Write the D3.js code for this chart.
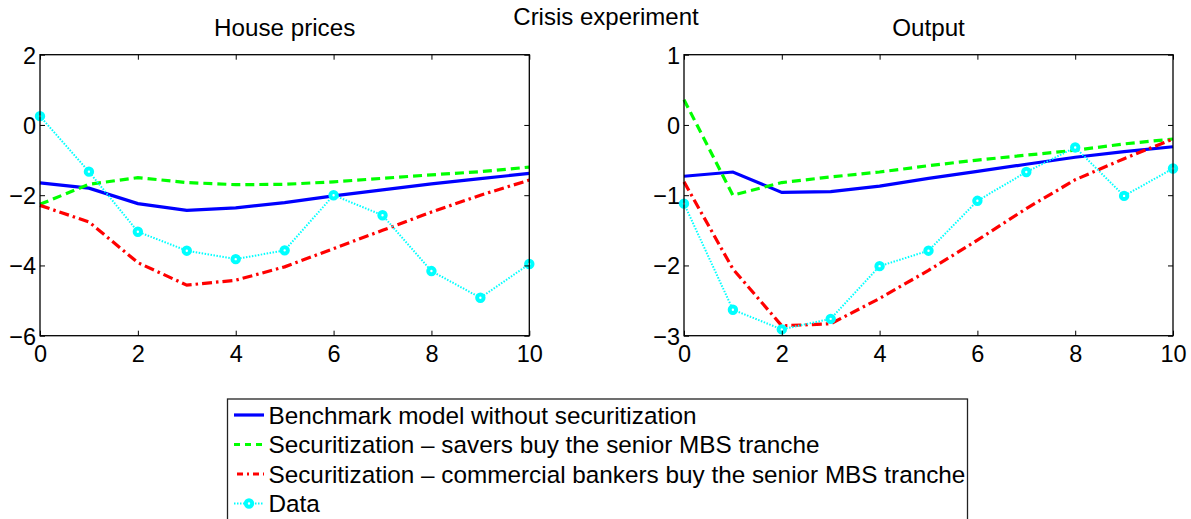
<!DOCTYPE html>
<html>
<head>
<meta charset="utf-8">
<script src="https://cdn.jsdelivr.net/npm/d3@7"></script>
<style>
  html, body { margin: 0; padding: 0; background: #fff; }
  svg { display: block; font-family: "Liberation Sans", Arial, sans-serif; }
</style>
</head>
<body>
<svg id="chart" width="1191" height="519"></svg>
<script>
// ---- Data ----
const periods = [0, 1, 2, 3, 4, 5, 6, 7, 8, 9, 10];

const houseBenchmark = [-1.65, -1.80, -2.24, -2.43, -2.36, -2.21, -2.02, -1.85, -1.68, -1.53, -1.38];
const houseSavers    = [-2.26, -1.69, -1.50, -1.64, -1.70, -1.69, -1.62, -1.52, -1.42, -1.33, -1.20];
const houseBankers   = [-2.29, -2.76, -3.92, -4.56, -4.42, -4.04, -3.52, -3.00, -2.48, -2.00, -1.57];
const houseData      = [0.25, -1.33, -3.04, -3.58, -3.82, -3.57, -2.00, -2.57, -4.16, -4.92, -3.96];

const outputBenchmark = [-0.73, -0.67, -0.96, -0.95, -0.87, -0.76, -0.66, -0.56, -0.46, -0.38, -0.31];
const outputSavers    = [0.36, -1.00, -0.82, -0.74, -0.67, -0.58, -0.50, -0.43, -0.36, -0.27, -0.20];
const outputBankers   = [-0.81, -2.05, -2.86, -2.83, -2.47, -2.07, -1.64, -1.19, -0.78, -0.48, -0.20];
const outputData      = [-1.12, -2.63, -2.91, -2.76, -2.01, -1.79, -1.08, -0.67, -0.32, -1.01, -0.62];

const xTicks = [0, 2, 4, 6, 8, 10];
const houseYTicks = [-6, -4, -2, 0, 2];
const outputYTicks = [-3, -2, -1, 0, 1];

const panelTitles = ["House prices", "Output"];
const figureTitle = "Crisis experiment";
const legendLabels = [
  "Benchmark model without securitization",
  "Securitization \u2013 savers buy the senior MBS tranche",
  "Securitization \u2013 commercial bankers buy the senior MBS tranche",
  "Data"
];

// ---- Styles ----
const seriesStyles = [
  { color: "#0000ff", width: 3.2, dash: null },
  { color: "#00ff00", width: 3.2, dash: "9,5" },
  { color: "#ff0000", width: 3.2, dash: "10,4,2.5,4" },
  { color: "#00ffff", width: 2, dash: "1.5,1.5", marker: true }
];

const svg = d3.select("#chart");
const fmt = d => (d < 0 ? "\u2212" + Math.abs(d) : String(d));

const panels = [
  { title: panelTitles[0], left: 40, right: 529.3, yDomain: [-6, 2], yTicks: houseYTicks,
    series: [houseBenchmark, houseSavers, houseBankers, houseData] },
  { title: panelTitles[1], left: 684, right: 1173, yDomain: [-3, 1], yTicks: outputYTicks,
    series: [outputBenchmark, outputSavers, outputBankers, outputData] }
];
const plotTop = 54.7, plotBottom = 335.7;

panels.forEach(p => {
  const x = d3.scaleLinear().domain([0, 10]).range([p.left, p.right]);
  const y = d3.scaleLinear().domain(p.yDomain).range([plotBottom, plotTop]);
  const g = svg.append("g");

  p.series.forEach((vals, i) => {
    const st = seriesStyles[i];
    const line = d3.line().x((d, j) => x(periods[j])).y(d => y(d));
    const path = g.append("path").datum(vals)
      .attr("d", line)
      .attr("fill", "none")
      .attr("stroke", st.color)
      .attr("stroke-width", st.width)
      .attr("stroke-linejoin", "miter");
    if (st.dash) path.attr("stroke-dasharray", st.dash);
    if (st.marker) {
      g.selectAll(null).data(vals).enter().append("circle")
        .attr("cx", (d, j) => x(periods[j]))
        .attr("cy", d => y(d))
        .attr("r", 3.2)
        .attr("fill", "#ffffff")
        .attr("stroke", st.color)
        .attr("stroke-width", 4);
    }
  });

  const ax = g.append("g").attr("class", "axes");
  const bottomAxis = d3.axisBottom(x).tickValues(xTicks).tickSizeInner(-5).tickSizeOuter(0).tickFormat(fmt);
  const topAxis = d3.axisTop(x).tickValues(xTicks).tickSizeInner(-5).tickSizeOuter(0).tickFormat("");
  const leftAxis = d3.axisLeft(y).tickValues(p.yTicks).tickSizeInner(-5).tickSizeOuter(0).tickFormat(fmt);
  const rightAxis = d3.axisRight(y).tickValues(p.yTicks).tickSizeInner(-5).tickSizeOuter(0).tickFormat("");

  const gb = ax.append("g").attr("transform", `translate(0,${plotBottom})`).call(bottomAxis);
  const gt = ax.append("g").attr("transform", `translate(0,${plotTop})`).call(topAxis);
  const gl = ax.append("g").attr("transform", `translate(${p.left},0)`).call(leftAxis);
  const gr = ax.append("g").attr("transform", `translate(${p.right},0)`).call(rightAxis);
  [gb, gt, gl, gr].forEach(a => {
    a.select(".domain").remove();
    a.selectAll(".tick line").attr("stroke", "#000").attr("stroke-width", 1);
    a.selectAll(".tick text").attr("font-size", 23.5).attr("fill", "#000")
      .attr("font-family", "Liberation Sans, Arial, sans-serif");
  });
  gb.selectAll(".tick text").attr("y", 10).attr("dy", "0.71em");
  gl.selectAll(".tick text").attr("x", -4).attr("dy", "0.36em");

  ax.append("rect")
    .attr("x", p.left).attr("y", plotTop)
    .attr("width", p.right - p.left).attr("height", plotBottom - plotTop)
    .attr("fill", "none").attr("stroke", "#000").attr("stroke-width", 1.3);

  svg.append("text")
    .attr("x", (p.left + p.right) / 2).attr("y", 36)
    .attr("text-anchor", "middle").attr("font-size", 24.2).attr("fill", "#000")
    .text(p.title);
});

svg.append("text")
  .attr("x", 606).attr("y", 25)
  .attr("text-anchor", "middle").attr("font-size", 24).attr("fill", "#000")
  .text(figureTitle);

// ---- Legend ----
const lg = svg.append("g");
lg.append("rect")
  .attr("x", 227.5).attr("y", 399)
  .attr("width", 740).attr("height", 140)
  .attr("fill", "#fff").attr("stroke", "#222").attr("stroke-width", 1.3);

const legendY = d3.scalePoint().domain(legendLabels).range([415, 503.5]);
legendLabels.forEach((lab, i) => {
  const st = seriesStyles[i];
  const cy = legendY(lab);
  const ln = lg.append("line")
    .attr("x1", 234).attr("x2", 264).attr("y1", cy).attr("y2", cy)
    .attr("stroke", st.color).attr("stroke-width", st.width);
  if (i === 1) ln.attr("stroke-dasharray", "6,5");
  else if (i === 2) ln.attr("stroke-dasharray", "6,4,2,4").attr("stroke-dashoffset", -3);
  else if (st.dash) ln.attr("stroke-dasharray", st.dash);
  if (st.marker) {
    lg.append("circle").attr("cx", 249).attr("cy", cy).attr("r", 3.2)
      .attr("fill", "#fff").attr("stroke", st.color).attr("stroke-width", 4);
  }
  lg.append("text")
    .attr("x", 268.5).attr("y", cy).attr("dy", "0.36em")
    .attr("font-size", 24.3).attr("fill", "#000")
    .text(lab);
});
</script>
</body>
</html>
